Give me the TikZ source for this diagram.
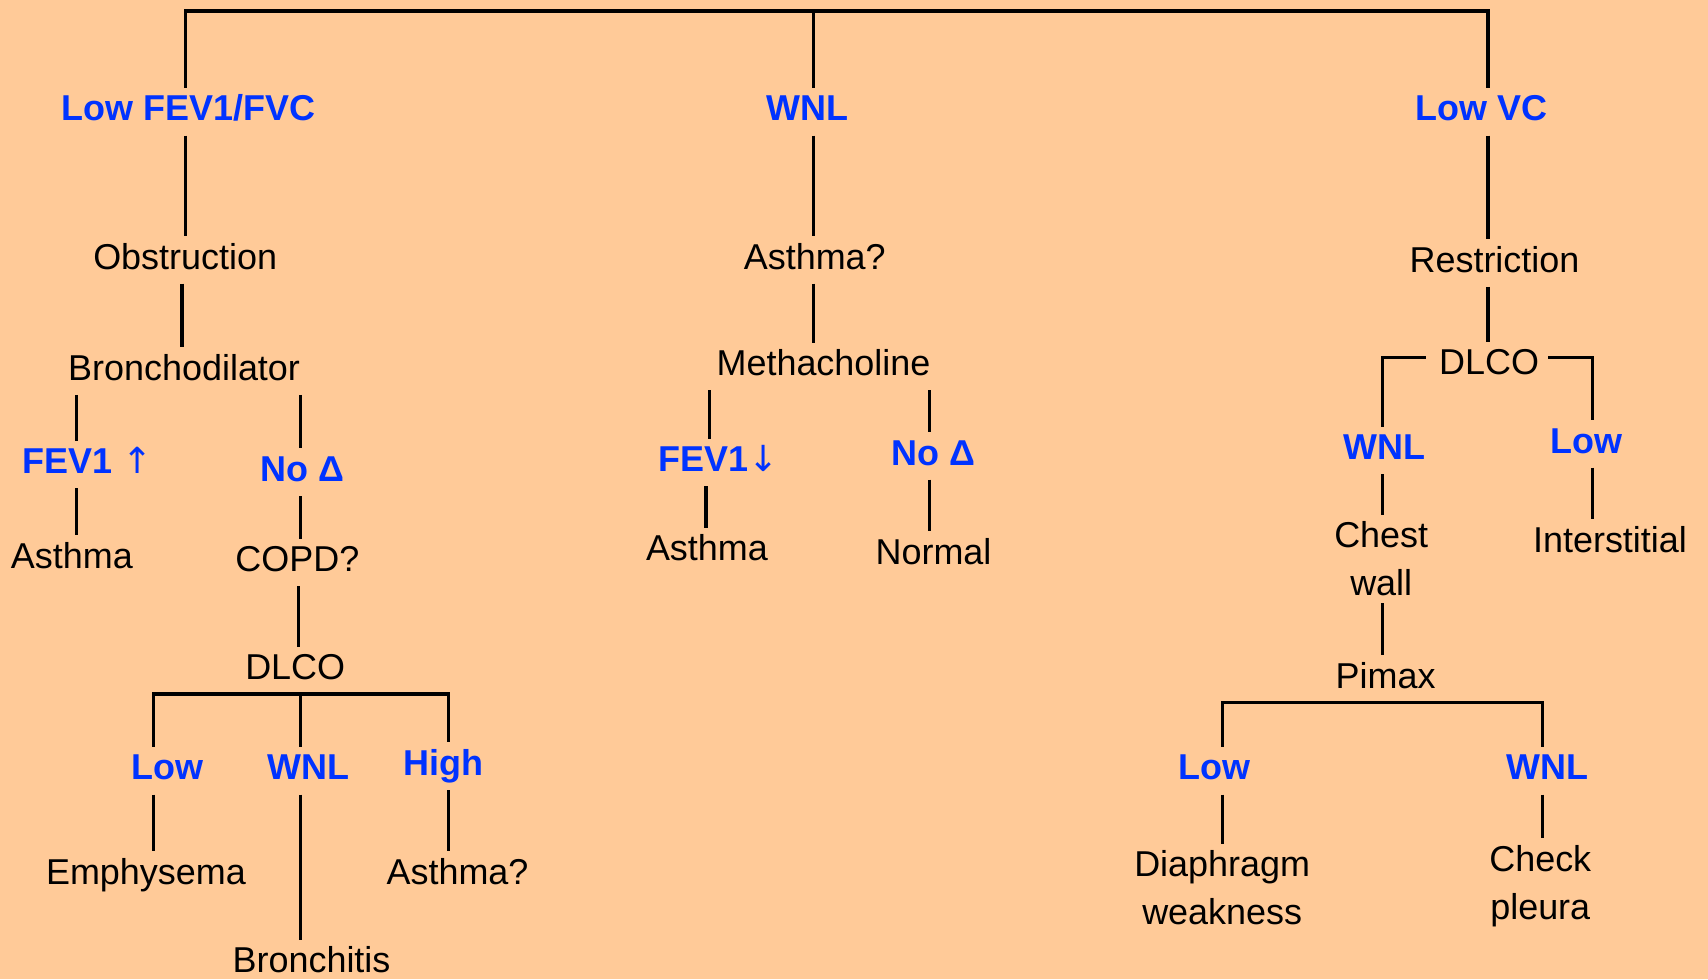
\documentclass[tikz,border=0pt]{standalone}
\usepackage{fontspec}
\setmainfont{Liberation Sans}
\newfontfamily\arrowfont{DejaVu Sans}
\definecolor{paper}{HTML}{FFCA98}
\definecolor{ink}{HTML}{0033FF}
\begin{document}
\begin{tikzpicture}[x=0.5pt,y=-0.5pt,
  lbl/.style={font=\fontsize{16.5}{22}\selectfont, text height=12pt, text depth=3.5pt,
              inner xsep=0pt, inner ysep=3pt, anchor=base},
  tst/.style={lbl, text=ink, font=\fontsize{16.5}{22}\selectfont\bfseries},
  two/.style={font=\fontsize{16.5}{22}\selectfont, align=center, inner xsep=0pt,
              inner ysep=3pt, anchor=base},
  wire/.style={line width=1.5pt}]
\fill[paper] (0,0) rectangle (1568,899);
\useasboundingbox (0,0) rectangle (1568,899);
\clip (0,0) rectangle (1568,899);

% x positions of the vertical wires, y positions of the horizontal bars
\coordinate (xa) at (170,0);
\coordinate (xb) at (167,0);
\coordinate (xc) at (70,0);
\coordinate (xd) at (276,0);
\coordinate (xe) at (274,0);
\coordinate (xf) at (141,0);
\coordinate (xg) at (412,0);
\coordinate (xm) at (747,0);
\coordinate (xn) at (651,0);
\coordinate (xo) at (648,0);
\coordinate (xp) at (853,0);
\coordinate (xr) at (1366,0);
\coordinate (xs) at (1269,0);
\coordinate (xt) at (1462,0);
\coordinate (xu) at (1122,0);
\coordinate (xv) at (1416,0);
\coordinate (ytop) at (0,10);
\coordinate (ybarA) at (0,637);
\coordinate (ydl) at (0,328);
\coordinate (ybarB) at (0,645);

% first level
\node[tst] (lowfev) at (173,111) {Low FEV1/FVC};
\node[tst] (wnlA)   at (741,111) {WNL};
\node[tst] (lowvc)  at (1360,111) {Low VC};

% obstruction branch
\node[lbl] (obstr)  at (170,247) {Obstruction};
\node[lbl] (bronch) at (169,349) {Bronchodilator};
\node[tst] (fevup)  at (80,435) {FEV1 {\arrowfont\mdseries ↑}};
\node[tst] (nodelA) at (278,442) {No Δ};
\node[lbl] (asthA)  at (66,522) {Asthma};
\node[lbl] (copd)   at (273,525) {COPD?};
\node[lbl] (dlcoA)  at (271,624) {DLCO};
\node[tst] (lowA)   at (154,716) {Low};
\node[tst] (wnlB)   at (283,716) {WNL};
\node[tst] (high)   at (407,712) {High};
\node[lbl] (emph)   at (134,812) {Emphysema};
\node[lbl] (bronchi) at (286,893) {Bronchitis};
\node[lbl] (asthQ)  at (420,812) {Asthma?};

% normal spirometry branch
\node[lbl] (asthM)  at (748,247) {Asthma?};
\node[lbl] (metha)  at (756,345) {Methacholine};
\node[tst] (fevdn)  at (660,433) {FEV1{\arrowfont\mdseries ↓}};
\node[tst] (nodelB) at (857,427) {No Δ};
\node[lbl] (asthB)  at (649,515) {Asthma};
\node[lbl] (normal) at (857,518) {Normal};

% restriction branch
\node[lbl] (restr)  at (1372,250) {Restriction};
\node[lbl] (dlcoB)  at (1367,344) {DLCO};
\node[tst] (wnlC)   at (1271,422) {WNL};
\node[tst] (lowB)   at (1456,416) {Low};
\node[two] (chest)  at (1268,547) {Chest\\wall};
\node[lbl] (inter)  at (1478,507) {Interstitial};
\node[lbl] (pimax)  at (1272,632) {Pimax};
\node[tst] (lowC)   at (1115,716) {Low};
\node[tst] (wnlD)   at (1421,716) {WNL};
\node[two] (diaph)  at (1122,849) {Diaphragm\\weakness};
\node[two] (check)  at (1414,844) {Check\\pleura};

% top bar
\draw[wire] (lowfev.north -| xa) -- (xa |- ytop) -- (xr |- ytop) -- (lowvc.north -| xr);
\draw[wire] (xm |- ytop) -- (wnlA.north -| xm);

% obstruction wires
\draw[wire] (lowfev.south -| xa) -- (obstr.north -| xa);
\draw[wire] (obstr.south -| xb) -- (bronch.north -| xb);
\draw[wire] (bronch.south -| xc) -- (fevup.north -| xc);
\draw[wire] (bronch.south -| xd) -- (nodelA.north -| xd);
\draw[wire] (fevup.south -| xc) -- (asthA.north -| xc);
\draw[wire] (nodelA.south -| xd) -- (copd.north -| xd);
\draw[wire] (copd.south -| xe) -- (dlcoA.north -| xe);
\draw[wire] (lowA.north -| xf) -- (xf |- ybarA) -- (xg |- ybarA) -- (high.north -| xg);
\draw[wire] (xd |- ybarA) -- (wnlB.north -| xd);
\draw[wire] (lowA.south -| xf) -- (emph.north -| xf);
\draw[wire] (wnlB.south -| xd) -- (bronchi.north -| xd);
\draw[wire] (high.south -| xg) -- (asthQ.north -| xg);

% normal spirometry wires
\draw[wire] (wnlA.south -| xm) -- (asthM.north -| xm);
\draw[wire] (asthM.south -| xm) -- (metha.north -| xm);
\draw[wire] (metha.south -| xn) -- (fevdn.north -| xn);
\draw[wire] (metha.south -| xp) -- (nodelB.north -| xp);
\draw[wire] (fevdn.south -| xo) -- (asthB.north -| xo);
\draw[wire] (nodelB.south -| xp) -- (normal.north -| xp);

% restriction wires
\draw[wire] (lowvc.south -| xr) -- (restr.north -| xr);
\draw[wire] (restr.south -| xr) -- (dlcoB.north -| xr);
\draw[wire] ([xshift=-6pt]dlcoB.west |- ydl) -- (xs |- ydl) -- (wnlC.north -| xs);
\draw[wire] ([xshift=4pt]dlcoB.east |- ydl) -- (xt |- ydl) -- (lowB.north -| xt);
\draw[wire] (wnlC.south -| xs) -- (chest.north -| xs);
\draw[wire] (lowB.south -| xt) -- (inter.north -| xt);
\draw[wire] (chest.south -| xs) -- (pimax.north -| xs);
\draw[wire] (lowC.north -| xu) -- (xu |- ybarB) -- (xv |- ybarB) -- (wnlD.north -| xv);
\draw[wire] (lowC.south -| xu) -- (diaph.north -| xu);
\draw[wire] (wnlD.south -| xv) -- (check.north -| xv);
\end{tikzpicture}
\end{document}
